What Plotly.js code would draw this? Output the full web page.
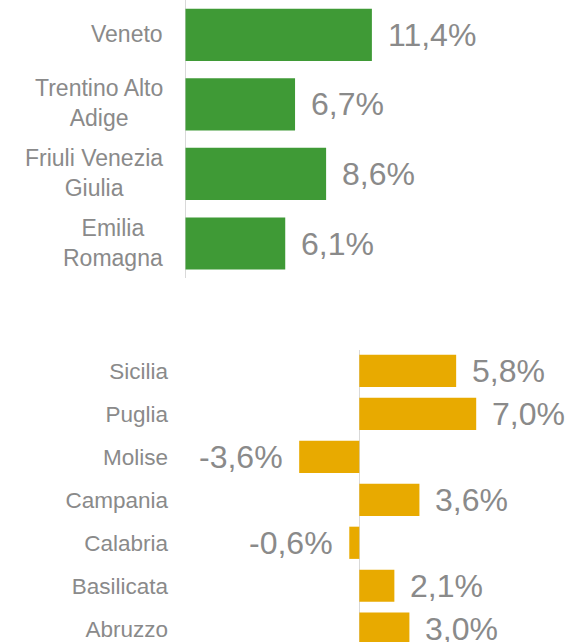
<!DOCTYPE html>
<html>
<head>
<meta charset="utf-8">
<script src="https://cdn.plot.ly/plotly-3.0.1.min.js"></script>
<style>html,body{margin:0;padding:0;background:#fff;}#chart{width:569px;height:642px;}</style>
</head>
<body>
<div id="chart"></div>
<script>
// Data
const northCategories = ["Veneto", "Trentino Alto<br>Adige", "Friuli Venezia<br>Giulia", "Emilia<br>Romagna"];
const northValues = [11.4, 6.7, 8.6, 6.1];
const southCategories = ["Sicilia", "Puglia", "Molise", "Campania", "Calabria", "Basilicata", "Abruzzo"];
const southValues = [5.8, 7.0, -3.6, 3.6, -0.6, 2.1, 3.0];

const GREEN = "#3f9a36";
const ORANGE = "#e8aa00";
const TEXT_GRAY = "#8a8a8a";
const LINE_GRAY = "#d9d9d9";
const FONT = "Liberation Sans, Arial, sans-serif";

function fmt(v) { return v.toFixed(1).replace('.', ',') + '%'; }

const traces = [
  {type: 'bar', orientation: 'h', x: northValues, y: northCategories,
   xaxis: 'x', yaxis: 'y', marker: {color: GREEN}, hoverinfo: 'none'},
  {type: 'bar', orientation: 'h', x: southValues, y: southCategories,
   xaxis: 'x2', yaxis: 'y2', marker: {color: ORANGE}, hoverinfo: 'none'}
];

const annotations = [];
function addLabels(cats, vals, xref, yref) {
  cats.forEach((c, i) => {
    const v = vals[i];
    annotations.push({
      x: v, y: c, xref: xref, yref: yref, text: fmt(v), showarrow: false,
      xanchor: v >= 0 ? 'left' : 'right', xshift: v >= 0 ? 14 : -14,
      font: {family: FONT, size: 32, color: TEXT_GRAY}
    });
  });
}
addLabels(northCategories, northValues, 'x', 'y');
addLabels(southCategories, southValues, 'x2', 'y2');

// top category labels, multi-line centred and right-aligned as a block
northCategories.forEach(c => {
  annotations.push({
    x: 165/569, xref: 'paper', y: c, yref: 'y', text: c, showarrow: false,
    xanchor: 'right', align: 'center', yshift: 1,
    font: {family: FONT, size: 23, color: TEXT_GRAY}
  });
});

const layout = {
  width: 569, height: 642,
  margin: {l: 0, r: 0, t: 0, b: 0},
  paper_bgcolor: '#fff', plot_bgcolor: '#fff',
  showlegend: false,
  bargap: 0.25,
  font: {family: FONT, color: TEXT_GRAY},
  xaxis: {domain: [168/569, 1], range: [-(185.5-168)/16.35, (569-185.5)/16.35],
          showgrid: false, showticklabels: false, zeroline: true, zerolinecolor: LINE_GRAY,
          zerolinewidth: 1.5, anchor: 'y', fixedrange: true},
  yaxis: {domain: [1 - 278.3/642, 1], range: [3.5, -0.5], type: 'category',
          showgrid: false, showline: false, zeroline: false, ticks: '', automargin: false,
          showticklabels: false, anchor: 'x'},
  xaxis2: {domain: [173/569, 1], range: [-(359.3-173)/16.7, (569-359.3)/16.7],
          showgrid: false, showticklabels: false, zeroline: true, zerolinecolor: LINE_GRAY,
          zerolinewidth: 1.5, anchor: 'y2', fixedrange: true},
  yaxis2: {domain: [0, 1 - 349.5/642], range: [6.31, -0.5], type: 'category',
          showgrid: false, showline: false, zeroline: false, ticks: '', automargin: false,
          tickfont: {family: FONT, size: 22.5, color: TEXT_GRAY}, ticklabelstandoff: 4, anchor: 'x2'},
  annotations: annotations
};

Plotly.newPlot('chart', traces, layout, {displayModeBar: false, staticPlot: true});
</script>
</body>
</html>
